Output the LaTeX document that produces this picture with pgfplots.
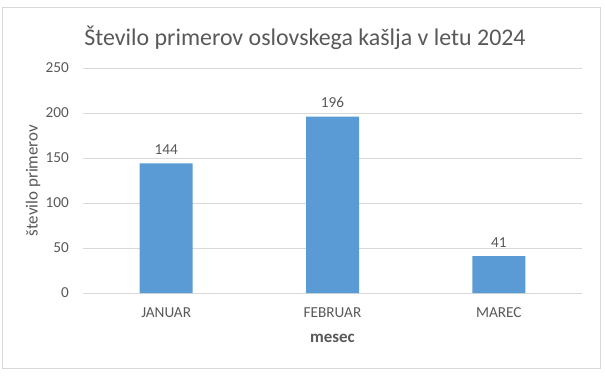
\documentclass[border=0pt]{standalone}
\usepackage{pgfplots}
\pgfplotsset{compat=1.18}
\usepackage{fontspec}
\setmainfont{Carlito}
\definecolor{txt}{HTML}{595959}
\definecolor{gridc}{HTML}{D9D9D9}
\definecolor{barc}{HTML}{5B9BD5}
\begin{document}
\begin{tikzpicture}[x=1bp,y=1bp]
\useasboundingbox (-83,-83) rectangle (522,293);
\fill[white] (-83,-83) rectangle (522,293);
\draw[gridc,line width=0.75bp] (-81,-75) rectangle (517,286);
\begin{axis}[
  at={(0,0)}, anchor=south west,
  scale only axis, width=499bp, height=225bp,
  xmin=-0.5, xmax=2.5, ymin=0, ymax=250,
  ytick={0,50,100,150,200,250},
  xtick={0,1,2}, xticklabels={JANUAR,FEBRUAR,MAREC},
  axis line style={draw=none},
  major tick style={draw=none},
  ymajorgrids, grid style={gridc, line width=0.75bp},
  ybar, bar width=53bp,
  ticklabel style={font=\fontsize{15.3}{17}\selectfont, text=txt},
  y tick label style={inner sep=0pt, xshift=-14bp},
  x tick label style={inner sep=0pt, yshift=-10bp},
  /pgf/number format/assume math mode=true,
  nodes near coords,
  every node near coord/.append style={font=\fontsize{15.3}{17}\selectfont, text=txt, yshift=5bp},
  xlabel={\textbf{mesec}},
  xlabel style={font=\fontsize{17}{19}\selectfont, text=txt, at={(axis description cs:0.5,0)}, anchor=center, yshift=-45bp},
  ylabel={število primerov},
  ylabel style={font=\fontsize{17}{19}\selectfont, text=txt, at={(axis description cs:-0.1,0.5)}, anchor=center},
]
\addplot[fill=barc, draw=none] coordinates {(0,144) (1,196) (2,41)};
\end{axis}
\node[font=\fontsize{24}{28}\selectfont, text=txt] at (222,255) {Število primerov oslovskega kašlja v letu 2024};
\end{tikzpicture}
\end{document}
